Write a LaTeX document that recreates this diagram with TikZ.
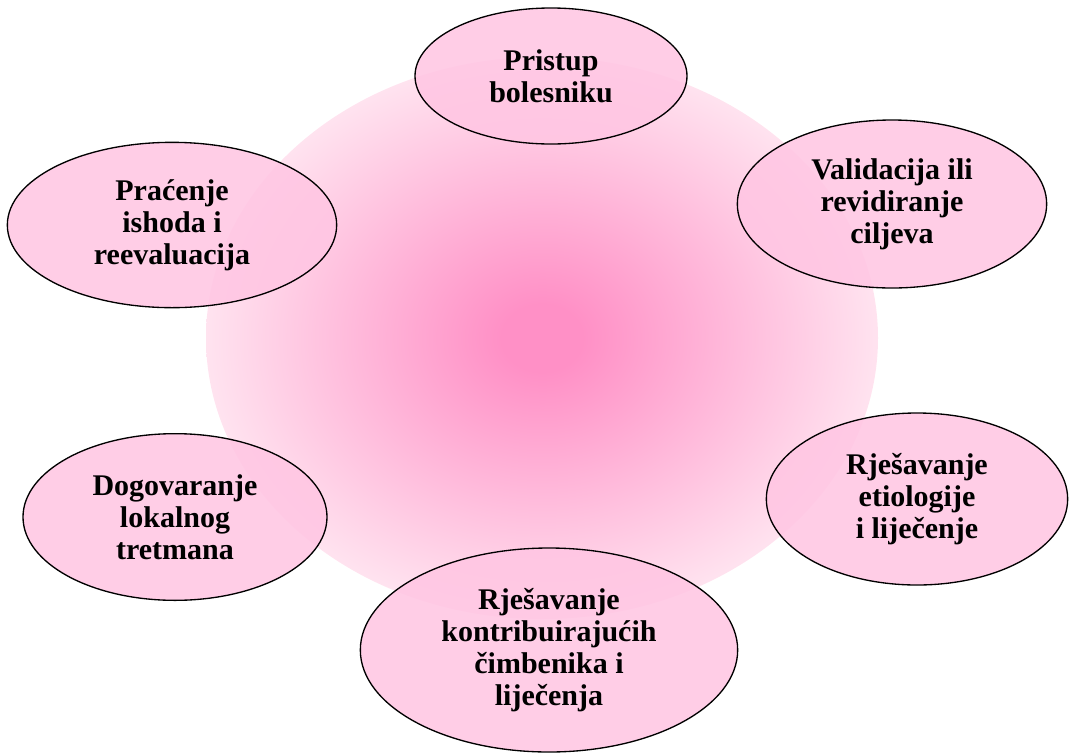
\documentclass[tikz,border=0pt]{standalone}
\usepackage{fontspec}
\setmainfont{Liberation Serif}
\usetikzlibrary{shapes.geometric}
\definecolor{stagepink}{RGB}{255,198,227}
\definecolor{glowcore}{RGB}{255,144,198}
\definecolor{glowrim}{RGB}{255,242,247}
\pgfdeclareradialshading{glow}{\pgfpoint{0bp}{0bp}}{%
  color(0bp)=(glowcore); color(3bp)=(glowcore); color(29bp)=(glowrim); color(50bp)=(glowrim)}

\begin{document}
\begin{tikzpicture}[
  x=0.75pt,y=-0.75pt,
  every node/.style={font=\bfseries\fontsize{22.5}{24}\selectfont},
  stage/.style={ellipse, draw=black, line width=1pt, fill=stagepink,
    fill opacity=0.88, text opacity=1, align=center, inner sep=0pt}
]
\useasboundingbox (0,0) rectangle (1072,754);

% soft glow behind the cycle
\shade[shading=glow] (542,338) ellipse [x radius=336, y radius=281];

\node[stage, minimum width=204pt, minimum height=102pt] (pristup) at (551,76) {Pristup\\bolesniku};
\node[stage, minimum width=232pt, minimum height=126pt] (validacija) at (892,204) {Validacija ili\\revidiranje\\ciljeva};
\node[stage, minimum width=226pt, minimum height=129pt] (etiologija) at (917,499) {Rješavanje\\etiologije\\i liječenje};
\node[stage, minimum width=283pt, minimum height=153pt] (cimbenici) at (549,650) {Rješavanje\\kontribuirajućih\\čimbenika i\\liječenja};
\node[stage, minimum width=228pt, minimum height=125pt] (dogovor) at (175,517) {Dogovaranje\\lokalnog\\tretmana};
\node[stage, minimum width=247pt, minimum height=124pt] (pracenje) at (172,225) {Praćenje\\ishoda i\\reevaluacija};
\end{tikzpicture}
\end{document}
